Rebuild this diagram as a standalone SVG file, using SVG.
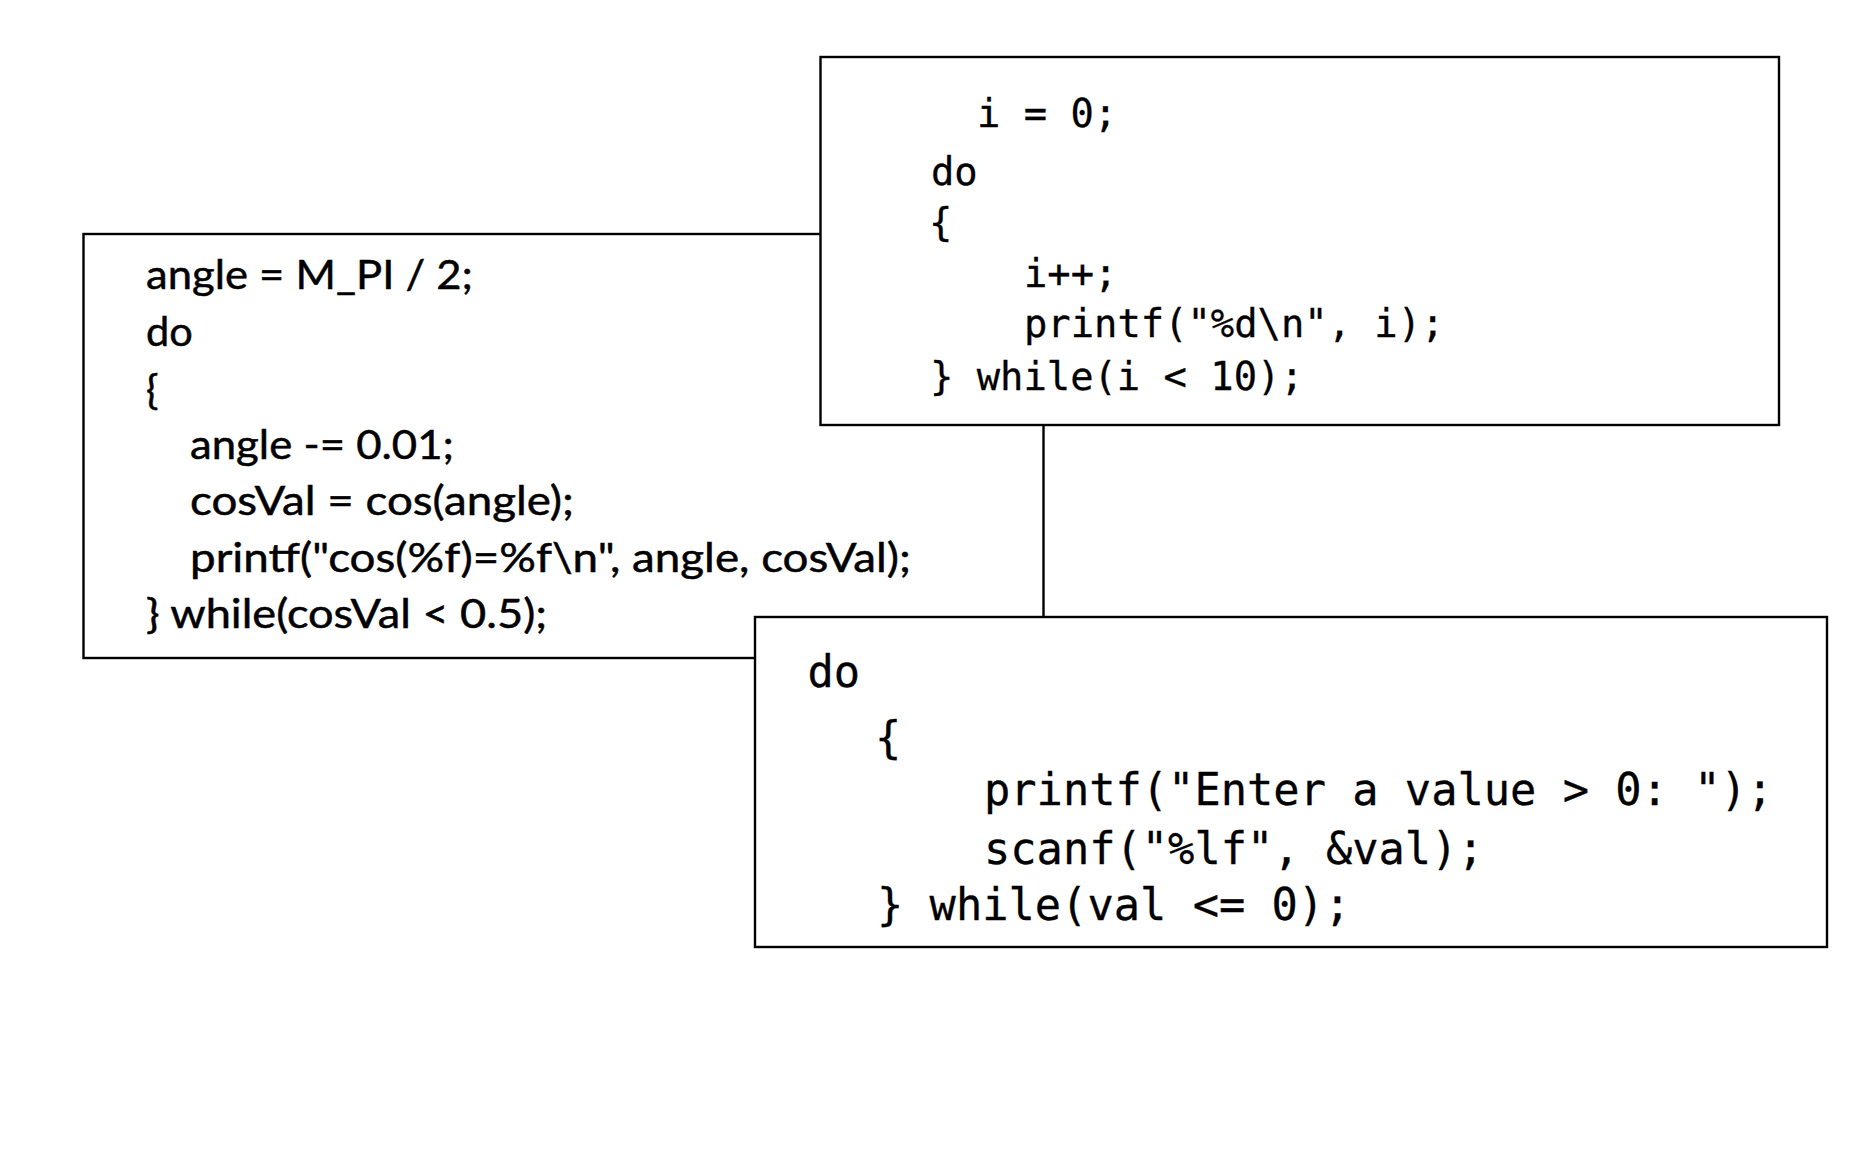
<svg xmlns="http://www.w3.org/2000/svg" width="1872" height="1170" viewBox="0 0 1872 1170">
  <style>
    .box { fill: #ffffff; stroke: #000000; stroke-width: 2.4; }
    .cal { font-family: Lato, "Open Sans", "Liberation Sans", sans-serif; font-size: 41.5px; fill: #000000; stroke: #000000; stroke-width: 0.5px; }
    .mono1 { font-family: "DejaVu Sans Mono", "Liberation Mono", monospace; font-size: 38.8px; fill: #000000; stroke: #000000; stroke-width: 0.3px; }
    .mono2 { font-family: "DejaVu Sans Mono", "Liberation Mono", monospace; font-size: 43.7px; fill: #000000; stroke: #000000; stroke-width: 0.3px; }
  </style>
  <rect width="1872" height="1170" fill="#ffffff"/>
  <g id="box-angle">
    <rect class="box" x="83.5" y="234" width="960" height="424"/>
    <text class="cal" x="146" y="289.3" textLength="327" lengthAdjust="spacingAndGlyphs">angle = M_PI / 2;</text>
    <text class="cal" x="146" y="345.8">do</text>
    <text class="cal" x="146" y="403.5">{</text>
    <text class="cal" x="190" y="458.8" textLength="264" lengthAdjust="spacingAndGlyphs">angle -= 0.01;</text>
    <text class="cal" x="190" y="515.3" textLength="384" lengthAdjust="spacingAndGlyphs">cosVal = cos(angle);</text>
    <text class="cal" x="190" y="571.8" textLength="721" lengthAdjust="spacingAndGlyphs">printf("cos(%f)=%f\n", angle, cosVal);</text>
    <text class="cal" x="146" y="628.3" textLength="401" lengthAdjust="spacingAndGlyphs">} while(cosVal &lt; 0.5);</text>
  </g>
  <g id="connectors"></g>
  <g id="box-counter">
    <rect class="box" x="820.5" y="57" width="958.5" height="368"/>
    <text class="mono1" x="977" y="127.3">i = 0;</text>
    <text class="mono1" x="931" y="185">do</text>
    <text class="mono1" x="929" y="236">{</text>
    <text class="mono1" x="1024" y="286.7">i++;</text>
    <text class="mono1" x="1024" y="336.7">printf("%d\n", i);</text>
    <text class="mono1" x="930" y="390">} while(i &lt; 10);</text>
  </g>
  <g id="box-input">
    <rect class="box" x="755" y="617" width="1072" height="330"/>
    <text class="mono2" x="807.5" y="687">do</text>
    <text class="mono2" x="875" y="753">{</text>
    <text class="mono2" x="984" y="805">printf("Enter a value &gt; 0: ");</text>
    <text class="mono2" x="984" y="863.5">scanf("%lf", &amp;val);</text>
    <text class="mono2" x="877" y="920">} while(val &lt;= 0);</text>
  </g>
</svg>
